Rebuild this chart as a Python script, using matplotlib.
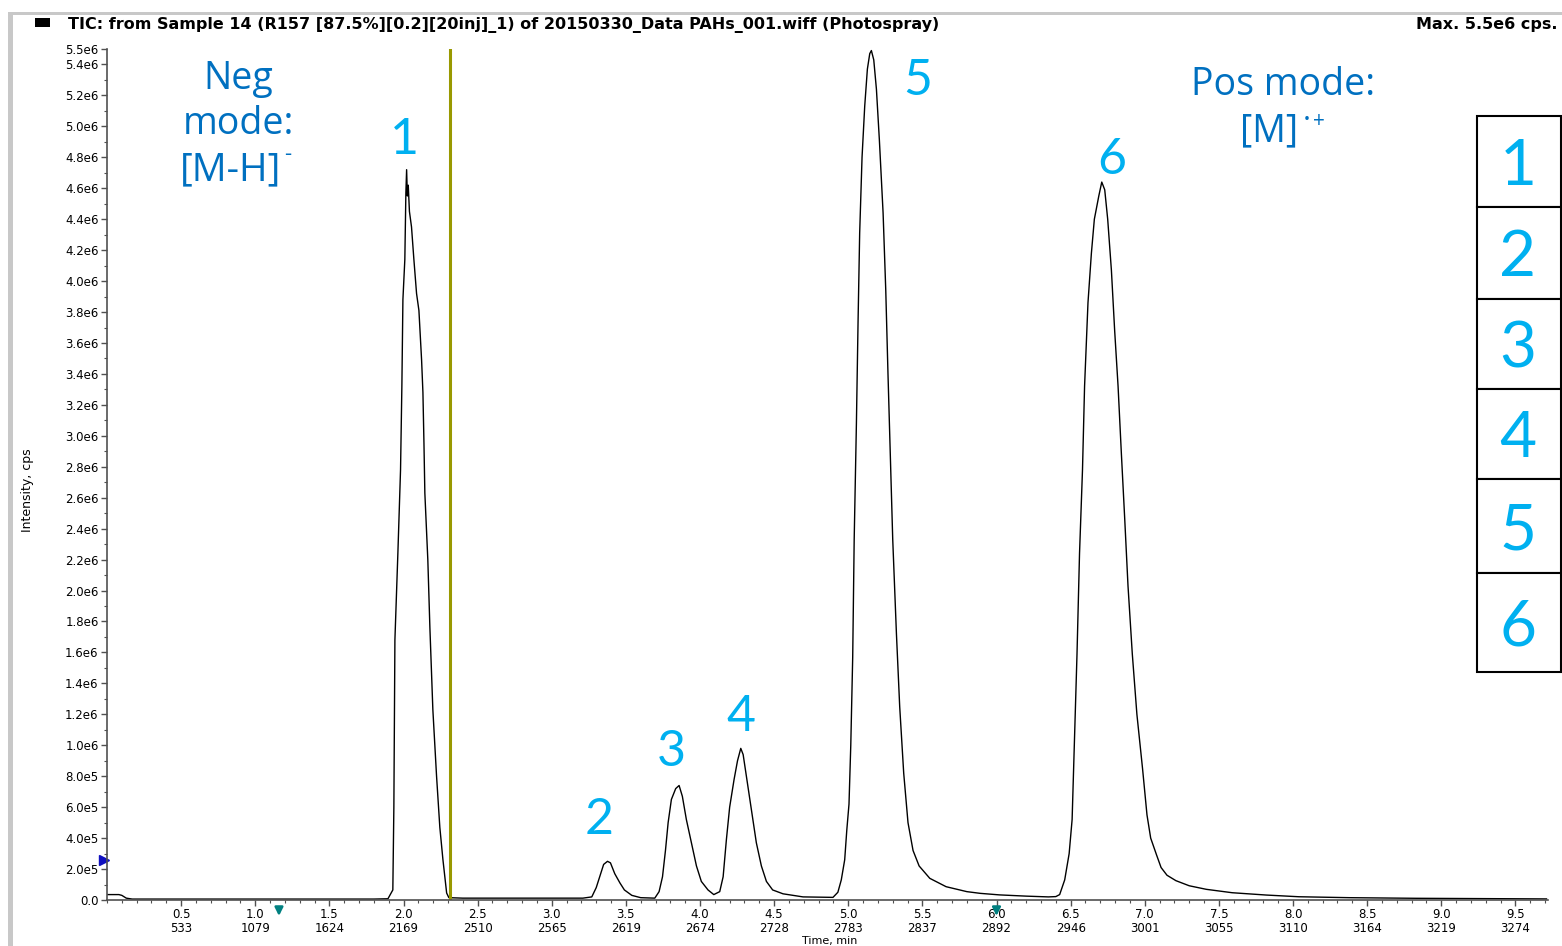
import matplotlib
matplotlib.use("Agg")
import matplotlib.pyplot as plt
from matplotlib.patches import Rectangle
from matplotlib.ticker import FixedLocator, MultipleLocator

# TIC trace, time in min, intensity in 1e6 cps
time_min = [
    0.00, 0.08, 0.10, 0.13, 0.17, 1.00, 1.80, 1.895, 1.928, 1.935,
    1.942, 1.962, 1.980, 1.989, 1.996, 2.009, 2.016, 2.021, 2.026, 2.032,
    2.040, 2.054, 2.070, 2.088, 2.104, 2.122, 2.131, 2.138, 2.144, 2.164,
    2.178, 2.198, 2.223, 2.245, 2.266, 2.291, 2.306,
    2.40, 3.00, 3.21, 3.27, 3.30, 3.33, 3.35, 3.376, 3.396, 3.425,
    3.46, 3.49, 3.54, 3.60, 3.695, 3.724, 3.747, 3.767, 3.785, 3.807,
    3.836, 3.859, 3.881, 3.908, 3.942, 3.976, 4.009, 4.054, 4.093, 4.133,
    4.156, 4.178, 4.20, 4.23, 4.253, 4.275, 4.291, 4.313, 4.347, 4.38,
    4.414, 4.448, 4.49, 4.56, 4.695, 4.897, 4.93, 4.953, 4.976, 4.99,
    5.005, 5.017, 5.03, 5.04, 5.055, 5.066, 5.077, 5.093, 5.111, 5.129,
    5.145, 5.156, 5.172, 5.19, 5.21, 5.235, 5.253, 5.268, 5.284, 5.30,
    5.325, 5.347, 5.374, 5.403, 5.437, 5.478, 5.55, 5.66, 5.80, 5.89,
    6.02, 6.20, 6.35, 6.40, 6.426, 6.46, 6.49, 6.51, 6.527, 6.543,
    6.56, 6.58, 6.594, 6.617, 6.64, 6.66, 6.69, 6.71, 6.73, 6.75,
    6.775, 6.797, 6.82, 6.842, 6.865, 6.887, 6.916, 6.947, 6.985, 7.015,
    7.04, 7.08, 7.11, 7.15, 7.21, 7.30, 7.415, 7.59, 7.82, 8.04,
    8.38, 8.83, 9.71,
]
intensity_e6 = [
    0.035, 0.035, 0.03, 0.012, 0.006, 0.006, 0.006, 0.008, 0.065, 0.6,
    1.68, 2.24, 2.78, 3.32, 3.88, 4.14, 4.57, 4.72, 4.55, 4.62,
    4.45, 4.35, 4.14, 3.92, 3.81, 3.49, 3.28, 2.95, 2.63, 2.20,
    1.76, 1.23, 0.80, 0.47, 0.26, 0.045, 0.015,
    0.012, 0.012, 0.012, 0.02, 0.08, 0.17, 0.23, 0.25, 0.24, 0.17,
    0.11, 0.065, 0.03, 0.015, 0.012, 0.054, 0.15, 0.32, 0.50, 0.65,
    0.72, 0.74, 0.67, 0.52, 0.37, 0.22, 0.12, 0.065, 0.035, 0.054,
    0.15, 0.39, 0.60, 0.78, 0.90, 0.98, 0.94, 0.80, 0.58, 0.37,
    0.22, 0.12, 0.065, 0.04, 0.02, 0.017, 0.05, 0.13, 0.26, 0.45,
    0.62, 1.0, 1.57, 2.33, 3.08, 3.73, 4.31, 4.80, 5.13, 5.37,
    5.47, 5.49, 5.43, 5.24, 4.91, 4.44, 3.94, 3.40, 2.87, 2.33,
    1.72, 1.25, 0.82, 0.50, 0.32, 0.22, 0.14, 0.086, 0.054, 0.043,
    0.033, 0.025, 0.02, 0.022, 0.035, 0.13, 0.30, 0.52, 1.06, 1.59,
    2.24, 2.78, 3.32, 3.86, 4.18, 4.40, 4.55, 4.64, 4.59, 4.40,
    4.07, 3.68, 3.32, 2.89, 2.46, 2.03, 1.59, 1.20, 0.85, 0.55,
    0.40, 0.29, 0.21, 0.16, 0.125, 0.092, 0.069, 0.047, 0.032, 0.021,
    0.015, 0.011, 0.007,
]
intensity = [v * 1e6 for v in intensity_e6]

# x ticks: time (min) over scan number
x_ticks = [0.5, 1.0, 1.5, 2.0, 2.5, 3.0, 3.5, 4.0, 4.5, 5.0,
           5.5, 6.0, 6.5, 7.0, 7.5, 8.0, 8.5, 9.0, 9.5]
scan_nums = ["533", "1079", "1624", "2169", "2510", "2565", "2619", "2674", "2728", "2783",
             "2837", "2892", "2946", "3001", "3055", "3110", "3164", "3219", "3274"]

y_ticks = [0, 2e5, 4e5, 6e5, 8e5, 1e6, 1.2e6, 1.4e6, 1.6e6, 1.8e6, 2.0e6, 2.2e6, 2.4e6,
           2.6e6, 2.8e6, 3.0e6, 3.2e6, 3.4e6, 3.6e6, 3.8e6, 4.0e6, 4.2e6, 4.4e6, 4.6e6,
           4.8e6, 5.0e6, 5.2e6, 5.4e6, 5.5e6]
y_labels = ["0.0", "2.0e5", "4.0e5", "6.0e5", "8.0e5", "1.0e6", "1.2e6", "1.4e6", "1.6e6",
            "1.8e6", "2.0e6", "2.2e6", "2.4e6", "2.6e6", "2.8e6", "3.0e6", "3.2e6", "3.4e6",
            "3.6e6", "3.8e6", "4.0e6", "4.2e6", "4.4e6", "4.6e6", "4.8e6", "5.0e6", "5.2e6",
            "5.4e6", "5.5e6"]

switch_time = 2.313   # neg -> pos polarity switch
peak_ids = ["1", "2", "3", "4", "5", "6"]
peak_lbl_t = [2.003, 3.318, 3.803, 4.275, 5.469, 6.777]
peak_lbl_y = [4.82e6, 0.427e6, 0.866e6, 1.09e6, 5.20e6, 4.69e6]
arrow_times = [1.16, 6.0]

W, H = 1562, 946
def fx(x): return x / W
def fy(y): return 1 - y / H

LIGHT = "#00B0F0"
DARK = "#0070C0"
TXT = ["Open Sans", "DejaVu Sans"]

fig = plt.figure(figsize=(W / 100, H / 100), dpi=100)

# window frame
fig.patches.append(Rectangle((fx(8), fy(15)), fx(1562 - 8), 3 / H, transform=fig.transFigure,
                             facecolor="#c8c8c8", edgecolor="none"))
fig.patches.append(Rectangle((fx(8), 0), 5 / W, fy(12), transform=fig.transFigure,
                             facecolor="#c8c8c8", edgecolor="none"))
fig.patches.append(Rectangle((fx(35), fy(27)), 15 / W, 9 / H, transform=fig.transFigure,
                             facecolor="black", edgecolor="none"))

fig.text(fx(68), fy(25), "TIC: from Sample 14 (R157 [87.5%][0.2][20inj]_1) of 20150330_Data PAHs_001.wiff (Photospray)",
         fontsize=11.5, fontweight="bold", va="center", ha="left")
fig.text(fx(1558), fy(25), "Max. 5.5e6 cps.", fontsize=11.5, fontweight="bold", va="center", ha="right")

ax = fig.add_axes([fx(107), fy(900), fx(1548) - fx(107), fy(49) - fy(900)])
ax.plot(time_min, intensity, color="black", lw=1.0)
ax.axvline(switch_time, color="#999900", lw=2.2)

ax.set_xlim(0, 9.72)
ax.set_ylim(0, 5.5e6)
for s in ["top", "right"]:
    ax.spines[s].set_visible(False)
for s in ["left", "bottom"]:
    ax.spines[s].set_color("#505050")
    ax.spines[s].set_linewidth(1.2)

ax.xaxis.set_major_locator(FixedLocator(x_ticks))
ax.set_xticklabels([f"{t:.1f}\n{n}" for t, n in zip(x_ticks, scan_nums)], linespacing=1.12)
ax.xaxis.set_minor_locator(MultipleLocator(0.1))
ax.yaxis.set_major_locator(FixedLocator(y_ticks))
ax.set_yticklabels(y_labels)
ax.yaxis.set_minor_locator(MultipleLocator(1e5))
ax.tick_params(axis="both", which="major", direction="out", length=4, width=1, color="#505050",
               labelsize=8.5, pad=2)
ax.tick_params(axis="x", which="major", pad=1.5)
ax.tick_params(axis="both", which="minor", direction="out", length=2.5, width=0.8, color="#505050")

# peak numbers
for pid, t, yv in zip(peak_ids, peak_lbl_t, peak_lbl_y):
    ax.text(t, yv, pid, color=LIGHT, fontsize=36, family="Lato", ha="center", va="baseline")

# polarity markers
xtr = ax.get_xaxis_transform()
for t in arrow_times:
    ax.annotate("", xy=(t, -0.022), xytext=(t, -0.005), xycoords=xtr, textcoords=xtr,
                annotation_clip=False,
                arrowprops=dict(arrowstyle="-|>", color="#008080", lw=1.8, mutation_scale=12))
ax.plot([-0.02], [0.26e6], marker=">", color="#1010c0", markersize=7, clip_on=False,
        transform=ax.transData)

fig.text(fx(27), fy(490), "Intensity, cps", rotation=90, fontsize=9, ha="center", va="center",
         family=["Liberation Sans Narrow", "DejaVu Sans"])
fig.text(fx(830), fy(935.5), "Time, min", fontsize=8, ha="center", va="top")

# ionisation mode notes
fig.text(fx(238), fy(89), "Neg", color=DARK, fontsize=27, family=TXT, ha="center", va="baseline")
fig.text(fx(238), fy(134), "mode:", color=DARK, fontsize=27, family=TXT, ha="center", va="baseline")
fig.text(fx(180), fy(180), "[M-H]", color=DARK, fontsize=28, family=TXT, ha="left", va="baseline")
fig.text(fx(284), fy(160), "-", color=DARK, fontsize=16, family=TXT, ha="left", va="baseline")
fig.text(fx(1283), fy(95), "Pos mode:", color=DARK, fontsize=27, family=TXT, ha="center", va="baseline")
fig.text(fx(1240), fy(141), "[M]", color=DARK, fontsize=27, family=TXT, ha="left", va="baseline")
fig.text(fx(1303), fy(129), "\u00b7", color=DARK, fontsize=22, family=TXT, ha="left", va="baseline")
fig.text(fx(1313), fy(127), "+", color=DARK, fontsize=15, family=TXT, ha="left", va="baseline")

# compound number column
row_edges = [116, 207, 299, 389, 479, 573, 672]
for i, pid in enumerate(peak_ids):
    top, bot = row_edges[i], row_edges[i + 1]
    fig.patches.append(Rectangle((fx(1477), fy(bot)), fx(1561) - fx(1477), (bot - top) / H,
                                 transform=fig.transFigure, facecolor="white",
                                 edgecolor="black", lw=1.5))
    fig.text(fx(1518), fy((top + bot) / 2 + 23), pid, color=LIGHT, fontsize=46, family="Lato",
             ha="center", va="baseline")

fig.savefig("out.png", dpi=100)
